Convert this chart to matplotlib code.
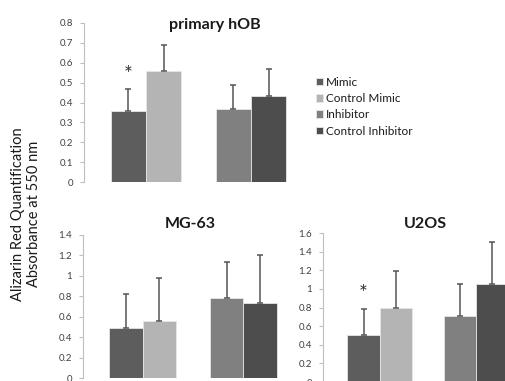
import numpy as np
import matplotlib.pyplot as plt

plt.rcParams['font.family'] = ['Lato', 'DejaVu Sans']

series = ["Mimic", "Control Mimic", "Inhibitor", "Control Inhibitor"]
colors = ["#5d5d5d", "#b4b4b4", "#808080", "#4d4d4d"]

# values: group 0 = Mimic / Control Mimic, group 1 = Inhibitor / Control Inhibitor
hob_vals = [0.356, 0.561, 0.368, 0.435]
hob_err = [0.112, 0.127, 0.122, 0.134]
mg_vals = [0.49, 0.56, 0.785, 0.733]
mg_err = [0.33, 0.42, 0.352, 0.472]
u2_vals = [0.507, 0.79, 0.714, 1.054]
u2_err = [0.279, 0.406, 0.34, 0.453]

fig = plt.figure(figsize=(5.05, 3.81), dpi=100)


def panel(rect, vals, errs, ymax, ystep, w):
    ax = fig.add_axes(rect)
    pos = [-w / 2, w / 2, 1 - w / 2, 1 + w / 2]
    for i in range(4):
        ax.bar(pos[i], vals[i], width=w, color=colors[i], edgecolor="#e6e6e6",
               linewidth=0.6, label=series[i], zorder=2)
        ax.errorbar(pos[i], vals[i], yerr=[[0], [errs[i]]], fmt='none',
                    ecolor="#555555", elinewidth=1.1, capsize=2.2, capthick=1.1, zorder=3)
    ax.set_xlim(-0.59, 1.59)
    ax.set_ylim(0, ymax)
    ticks = np.arange(0, ymax + 1e-9, ystep)
    ax.set_yticks(ticks)
    ax.set_yticklabels([lab(t) for t in ticks])
    ax.set_xticks([])
    for s in ["top", "right", "bottom"]:
        ax.spines[s].set_visible(False)
    ax.spines["left"].set_color("#bfbfbf")
    ax.tick_params(axis='y', length=3, color="#bfbfbf", labelsize=7,
                   labelcolor="#404040", pad=5)
    ax.patch.set_alpha(0)
    return ax, pos


def lab(t):
    s = ("%.1f" % t)
    if s.endswith(".0"):
        s = s[:-2]
    return s


ax1, p1 = panel([84 / 505, 1 - 182 / 381, 229 / 505, 159 / 381], hob_vals, hob_err, 0.8, 0.1, 0.335)
ax1.text(p1[0], 0.54, "*", ha='center', va='center', fontsize=15, color="#333333")

ax2, p2 = panel([83 / 505, 1 - 378 / 381, 220 / 505, 143 / 381], mg_vals, mg_err, 1.4, 0.2, 0.33)

ax3, p3 = panel([323 / 505, 1 - 382 / 381, 210 / 505, 149 / 381], u2_vals, u2_err, 1.6, 0.2, 0.337)
ax3.text(p3[0], 0.95, "*", ha='center', va='center', fontsize=15, color="#333333")

fig.text(215 / 505, 1 - 25 / 381, "primary hOB", ha='center', va='center',
         fontsize=11.5, fontweight='bold', color="#1a1a1a")
fig.text(190 / 505, 1 - 224 / 381, "MG-63", ha='center', va='center',
         fontsize=11.5, fontweight='bold', color="#1a1a1a")
fig.text(425 / 505, 1 - 224 / 381, "U2OS", ha='center', va='center',
         fontsize=11.5, fontweight='bold', color="#1a1a1a")

fig.text(26 / 505, 1 - 214 / 381, "Alizarin Red Quantification\nAbsorbance at 550 nm",
         rotation=90, ha='center', va='center', fontsize=10.5, color="#1a1a1a",
         linespacing=1.15)

handles, labels = ax1.get_legend_handles_labels()
leg = fig.legend(handles, labels, loc='upper left', bbox_to_anchor=(305 / 505, 1 - 66 / 381),
                 frameon=False, fontsize=8.5, handlelength=0.6, handleheight=0.6,
                 handletextpad=0.3, labelspacing=0.45, labelcolor="#1a1a1a")

fig.savefig("out.png", dpi=100)
